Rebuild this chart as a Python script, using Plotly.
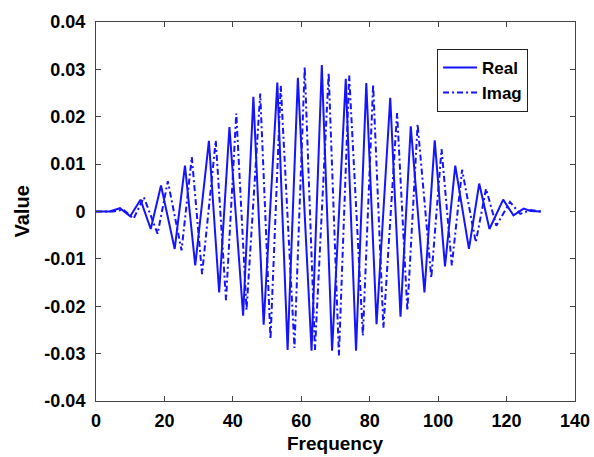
import plotly.graph_objects as go

# Real part: extrema (frequency, value)
real_freq = [0, 4, 7, 10, 13, 16, 19, 23, 26, 29, 33, 36, 39, 43, 46, 49, 53, 56, 59, 63,
             66, 69, 73, 76, 79, 82, 86, 89, 92, 96, 99, 102, 105, 109, 112, 115, 119, 122,
             125, 127, 130]
real_vals = [0, 0, 0.0007, -0.0010, 0.0025, -0.0037, 0.0055, -0.0079, 0.0097, -0.0114,
             0.0149, -0.0171, 0.0178, -0.0220, 0.0242, -0.0239, 0.0272, -0.0292, 0.0282,
             -0.0294, 0.0309, -0.0294, 0.0280, -0.0294, 0.0271, -0.0238, 0.0240, -0.0222,
             0.0180, -0.0171, 0.0150, -0.0116, 0.0097, -0.0079, 0.0059, -0.0037, 0.0025,
             -0.0008, 0.0006, 0.0001, 0]

# Imag part: extrema (frequency, value)
imag_freq = [0, 5, 8, 11, 14, 18, 21, 25, 28, 31, 35, 38, 41, 44, 48, 51, 54, 58, 61, 64,
             68, 71, 74, 78, 81, 84, 88, 91, 94, 98, 101, 104, 107, 111, 114, 117, 121, 124,
             127, 130]
imag_vals = [0, 0, 0.0004, -0.0015, 0.0030, -0.0047, 0.0064, -0.0082, 0.0115, -0.0132,
             0.0150, -0.0187, 0.0207, -0.0208, 0.0249, -0.0269, 0.0266, -0.0288, 0.0305,
             -0.0292, 0.0292, -0.0304, 0.0287, -0.0262, 0.0268, -0.0246, 0.0208, -0.0209,
             0.0184, -0.0140, 0.0132, -0.0114, 0.0088, -0.0065, 0.0048, -0.0030, 0.0020,
             -0.0005, 0.0003, 0]

x_ticks = [0, 20, 40, 60, 80, 100, 120, 140]
y_ticks = [-0.04, -0.03, -0.02, -0.01, 0, 0.01, 0.02, 0.03, 0.04]
y_tick_text = ["-0.04", "-0.03", "-0.02", "-0.01", "0", "0.01", "0.02", "0.03", "0.04"]
x_title = "Frequency"
y_title = "Value"

BLUE = "#1414ff"
FONT = "Liberation Sans"
AXC = "#444444"

fig = go.Figure()
fig.add_trace(go.Scatter(x=real_freq, y=real_vals, mode="lines", name="<b>Real</b>",
                         line=dict(color=BLUE, width=2, dash="solid")))
fig.add_trace(go.Scatter(x=imag_freq, y=imag_vals, mode="lines", name="<b>Imag</b>",
                         line=dict(color=BLUE, width=2, dash="6px,3px,2px,3px")))

axis_common = dict(showline=True, linecolor=AXC, linewidth=1, mirror="ticks",
                   ticks="inside", ticklen=5, tickcolor=AXC, showgrid=False,
                   zeroline=False, automargin=False,
                   tickfont=dict(family=FONT, size=18, color="black"))

fig.update_xaxes(range=[0, 140], tickvals=x_ticks,
                 ticktext=[f"<b>{v}</b>" for v in x_ticks],
                 ticklabelstandoff=3, **axis_common)
fig.update_yaxes(range=[-0.04, 0.04], tickvals=y_ticks,
                 ticktext=[f"<b>{t}</b>" for t in y_tick_text],
                 ticklabelstandoff=6, **axis_common)

title_font = dict(family=FONT, size=19, color="black")
fig.add_annotation(text=f"<b>{x_title}</b>", xref="paper", yref="paper", x=0.5, y=0,
                   xanchor="center", yanchor="middle", yshift=-42, showarrow=False,
                   font=title_font)
fig.add_annotation(text=f"<b>{y_title}</b>", xref="paper", yref="paper", x=0, y=0.5,
                   xanchor="center", yanchor="middle", xshift=-75, textangle=-90,
                   showarrow=False, font=dict(family=FONT, size=20, color="black"))

fig.update_layout(
    width=594, height=457,
    margin=dict(l=96, r=19, t=22, b=56),
    paper_bgcolor="white", plot_bgcolor="white",
    showlegend=True,
    legend=dict(x=0.712, y=0.929, xanchor="left", yanchor="top",
                bgcolor="white", bordercolor="#222", borderwidth=1,
                font=dict(family=FONT, size=17, color="black"),
                tracegroupgap=0, itemwidth=34),
)

fig.write_html("out.html",
               config={"displayModeBar": False},
               post_script="document.body.style.margin='0';document.body.style.overflow='hidden';")
